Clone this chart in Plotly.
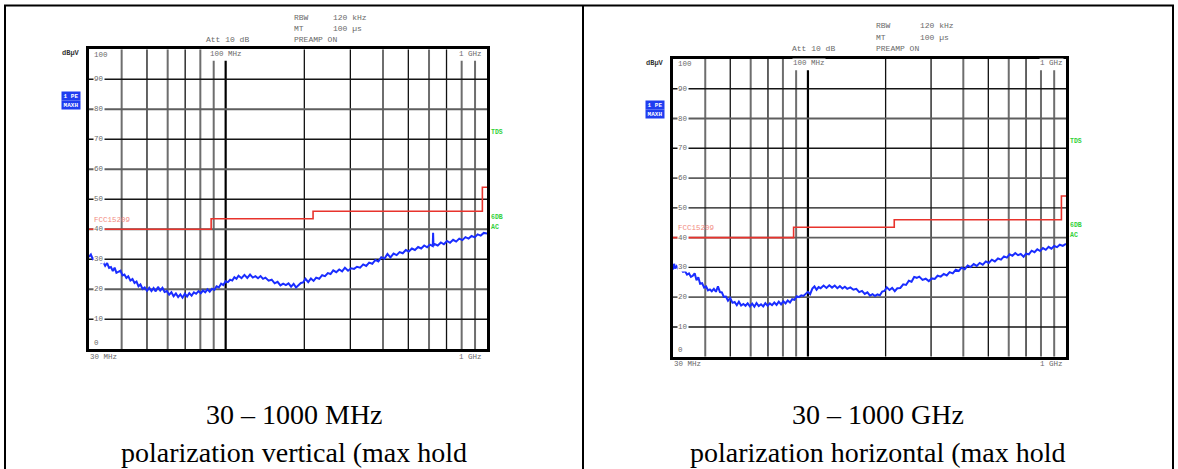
import plotly.graph_objects as go

W, H = 1178, 469

# ---------------- data ----------------
freq_v = [30.0, 30.5, 31.0, 31.6, 32.2, 32.8, 33.4, 34.0, 34.6, 35.2, 35.8, 36.4, 37.0, 37.6, 38.2, 38.9,
          39.6, 40.3, 41.0, 41.7, 42.4, 43.2, 44.0, 44.8, 45.6, 46.4, 47.2, 48.1, 49.0, 50.0, 51.0, 52.0,
          53.0, 54.0, 55.1, 56.2, 57.3, 58.4, 59.6, 60.8, 62.0, 63.2, 64.5, 65.8, 67.1, 68.4, 69.8, 71.2,
          72.6, 74.1, 75.6, 77.1, 78.7, 80.3, 81.9, 83.5, 85.2, 86.9, 88.7, 90.5, 92.3, 94.2, 96.1, 98.0,
          100, 102, 104, 106, 108, 110, 112, 115, 118, 121, 124, 127, 130, 133, 136, 139, 142, 146, 150,
          154, 158, 162, 166, 170, 174, 178, 182, 186, 190, 194, 198, 202, 207, 212, 217, 222, 228, 234,
          240, 246, 252, 258, 265, 272, 279, 286, 294, 302, 310, 318, 327, 336, 345, 354, 364, 374, 384,
          394, 405, 416, 427, 439, 451, 463, 476, 489, 502, 516, 530, 545, 560, 575, 590, 605, 620, 622,
          624, 630, 648, 666, 684, 703, 722, 742, 762, 783, 805, 827, 850, 873, 897, 921, 946, 972, 1000]
level_v = [30.8, 31.6, 30.1, 30.5, 29.6, 30.0, 28.8, 29.2, 27.8, 28.7, 27.1, 27.4, 26.1, 27.2, 25.5, 25.9,
           26.2, 24.6, 24.9, 23.8, 24.3, 22.9, 23.4, 22.1, 22.6, 21.0, 21.6, 20.1, 20.6, 19.5, 20.5, 19.4,
           20.4, 19.3, 20.8, 19.6, 20.5, 19.1, 19.4, 18.2, 19.0, 17.7, 18.6, 17.4, 18.3, 17.2, 18.5, 17.6,
           18.7, 17.9, 19.0, 18.5, 19.4, 18.7, 19.6, 19.0, 20.0, 19.2, 20.2, 19.8, 21.0, 20.6, 21.9, 21.4,
           22.7, 22.4, 23.2, 22.9, 24.0, 23.5, 24.5, 23.7, 24.8, 23.8, 24.9, 23.9, 24.4, 23.7, 24.4, 23.5,
           23.9, 22.9, 23.2, 22.0, 22.5, 21.3, 21.9, 21.4, 22.0, 20.9, 21.8, 20.6, 21.4, 22.1, 22.3, 23.5,
           22.4, 23.6, 22.8, 23.9, 23.5, 24.7, 24.4, 25.4, 25.1, 26.3, 25.7, 26.6, 26.0, 27.2, 26.2, 27.0,
           26.8, 27.5, 27.2, 28.3, 27.8, 28.9, 28.5, 29.8, 29.3, 30.7, 30.2, 31.8, 30.6, 31.9, 31.4, 32.4,
           32.0, 33.1, 32.6, 33.6, 33.1, 34.1, 33.6, 34.6, 34.0, 34.9, 34.4, 38.8, 34.5, 35.1, 34.6, 35.6,
           35.0, 36.1, 35.5, 36.5, 35.9, 36.9, 36.4, 37.4, 36.9, 37.8, 37.3, 38.3, 37.9, 38.8, 38.6]

freq_h = [30.0, 30.3, 30.6, 31.0, 31.6, 32.2, 32.8, 33.4, 34.0, 34.6, 35.2, 35.8, 36.4, 37.0, 37.6, 38.2,
          38.9, 39.6, 40.3, 41.0, 41.7, 42.4, 43.2, 44.0, 44.8, 45.6, 46.4, 47.2, 48.1, 49.0, 50.0, 51.0,
          52.0, 53.0, 54.0, 55.1, 56.2, 57.3, 58.4, 59.6, 60.8, 62.0, 63.2, 64.5, 65.8, 67.1, 68.4, 69.8,
          71.2, 72.6, 74.1, 75.6, 77.1, 78.7, 80.3, 81.9, 83.5, 85.2, 86.9, 88.7, 90.5, 92.3, 94.2, 96.1,
          98.0, 100, 102, 104, 106, 108, 110, 112, 115, 118, 121, 124, 127, 130, 133, 136, 139, 142, 146,
          150, 154, 158, 162, 166, 170, 174, 178, 182, 186, 190, 194, 198, 202, 207, 212, 217, 222, 228,
          234, 240, 246, 252, 258, 264, 270, 278, 286, 294, 302, 310, 318, 327, 336, 345, 354, 364, 374,
          384, 394, 405, 416, 427, 439, 451, 463, 476, 489, 502, 516, 530, 545, 560, 575, 590, 605, 620,
          636, 652, 668, 685, 700, 718, 736, 755, 774, 794, 814, 835, 856, 878, 900, 923, 946, 972, 1000]
level_h = [29.3, 31.2, 29.6, 30.4, 29.2, 29.6, 28.5, 28.7, 27.6, 28.0, 26.8, 27.2, 28.0, 25.7, 26.7, 24.5,
           24.7, 23.2, 23.6, 22.3, 22.6, 22.0, 22.8, 21.8, 23.6, 21.7, 21.6, 20.1, 20.2, 18.8, 19.7, 18.1,
           18.4, 17.3, 18.5, 17.2, 17.7, 17.1, 17.9, 16.9, 17.8, 16.8, 18.0, 17.0, 17.6, 16.9, 18.0, 17.1,
           17.9, 17.3, 18.2, 17.4, 18.5, 17.6, 18.6, 17.9, 18.9, 18.2, 19.3, 19.1, 20.3, 20.0, 20.6, 20.4,
           21.1, 21.8, 21.0, 22.9, 23.6, 22.5, 23.4, 23.0, 23.9, 23.1, 24.0, 23.2, 23.9, 23.0, 23.7, 22.9,
           23.5, 22.8, 23.3, 22.5, 22.8, 21.7, 22.1, 21.1, 21.6, 20.5, 21.0, 20.4, 20.9, 20.6, 21.9, 22.1,
           23.3, 22.4, 23.1, 22.0, 23.0, 23.1, 24.3, 24.1, 25.5, 25.2, 26.8, 26.5, 26.9, 25.8, 26.2, 25.4,
           26.3, 26.1, 27.2, 26.9, 27.8, 27.3, 28.4, 28.0, 29.2, 28.8, 29.9, 29.4, 30.6, 30.1, 31.1, 30.5,
           31.5, 30.9, 32.0, 31.5, 32.6, 32.0, 33.0, 32.6, 33.7, 33.3, 34.4, 33.9, 34.8, 34.1, 34.5, 33.6,
           34.6, 34.4, 35.6, 35.1, 36.1, 35.5, 36.5, 35.9, 36.9, 36.3, 37.2, 36.8, 37.6, 37.2, 37.9]

limit_freq = [30, 88, 216, 960, 1000]
limit_level = [40, 43.5, 46, 54, 54]

grid_freq = [40, 50, 60, 70, 80, 90, 100, 200, 300, 400, 500, 600, 700, 800, 900]
short_freq = [90, 100, 800, 900]
grid_level = [10, 20, 30, 40, 50, 60, 70, 80, 90]
y_tick_labels = ["10", "20", "30", "40", "50", "60", "70", "80", "90"]

captions = {
    "left": ["30 – 1000 MHz", "polarization vertical (max hold"],
    "right": ["30 – 1000 GHz", "polarization horizontal (max hold"],
}

# ---------------- helpers ----------------
def X(px):
    return px / W

def Y(py):
    return 1 - py / H

MONO = "Liberation Mono"
GRAY = "#6a6a6a"
BLUE = "#1a2dff"
RED = "#e8332c"
GREEN = "#33d13a"

fig = go.Figure()
annotations = []
shapes = []

panels = [
    dict(xa="x", ya="y", xd=[89, 487], yd=[49.3, 349.3], freq=freq_v, level=level_v,
         rbw=(293, 17), mt=(293, 28.5), att=(205, 39.5), val_dx=39,
         dbuv=(61, 52.7), pe=(70.5, 96), maxh=(70.5, 105),
         lab_x=93, top_y=55, zero_y=343, mhz100=(209, 54.3), ghz_top=(458, 54.3),
         bot=(89, 357), ghz_bot=(458, 357), fcc=(93, 220), tds=(490, 132), sixdb=(490, 218),
         ac=(490, 227), cap=captions["left"], cap_x=294),
    dict(xa="x2", ya="y2", xd=[673, 1066], yd=[59, 356.7], freq=freq_h, level=level_h,
         rbw=(875, 25), mt=(875, 37.5), att=(791, 49), val_dx=44,
         dbuv=(645, 62.7), pe=(654.5, 105), maxh=(654.5, 114),
         lab_x=677, top_y=64, zero_y=350, mhz100=(792, 63.3), ghz_top=(1039, 63.3),
         bot=(673, 364), ghz_bot=(1039, 364), fcc=(677, 228), tds=(1069, 141), sixdb=(1069, 226),
         ac=(1069, 235), cap=captions["right"], cap_x=878),
]

dark_idx = {1, 3, 6, 7, 8, 10, 12}

for p in panels:
    xa, ya = p["xa"], p["ya"]
    # vertical grid
    for i, f in enumerate(grid_freq):
        top = 96.2 if f in short_freq else 100
        if f == 100:
            col, wd = "#000000", 2.2
        elif i in dark_idx:
            col, wd = "#111111", 1.3
        else:
            col, wd = "#6e6e6e", 2.0
        fig.add_trace(go.Scatter(x=[f, f], y=[0, top], mode="lines", xaxis=xa, yaxis=ya,
                                 line=dict(color=col, width=wd), hoverinfo="skip", showlegend=False))
    # horizontal grid
    for j, lv in enumerate(grid_level):
        col, wd = ("#151515", 1.4) if j % 2 == 0 else ("#5e5e5e", 1.9)
        fig.add_trace(go.Scatter(x=[30, 1000], y=[lv, lv], mode="lines", xaxis=xa, yaxis=ya,
                                 line=dict(color=col, width=wd), hoverinfo="skip", showlegend=False))
    # limit line
    fig.add_trace(go.Scatter(x=limit_freq, y=limit_level, mode="lines", line_shape="hv",
                             xaxis=xa, yaxis=ya, line=dict(color=RED, width=1.6),
                             hoverinfo="skip", showlegend=False))
    # measurement
    fig.add_trace(go.Scatter(x=p["freq"], y=p["level"], mode="lines", xaxis=xa, yaxis=ya,
                             line=dict(color=BLUE, width=2.0), hoverinfo="skip", showlegend=False))

    def txt(t, xy, color=GRAY, size=8, xanchor="left", bg=None, bold=False, yref="paper", yval=None):
        a = dict(text=(f"<b>{t}</b>" if bold else t), x=X(xy[0]), xref="paper",
                 y=(Y(xy[1]) if yval is None else yval), yref=yref,
                 xanchor=xanchor, yanchor="middle", showarrow=False,
                 font=dict(family=MONO, size=size, color=color), borderpad=0)
        if bg:
            a["bgcolor"] = bg
        annotations.append(a)

    dx = p["val_dx"]
    txt("RBW", p["rbw"]); txt("120 kHz", (p["rbw"][0] + dx, p["rbw"][1]))
    txt("MT", p["mt"]); txt("100 µs", (p["mt"][0] + dx, p["mt"][1]))
    txt("Att 10 dB", p["att"]); txt("PREAMP ON", (p["rbw"][0], p["att"][1]))
    txt("dBµV", p["dbuv"], color="#333333", size=7, bold=True)
    for key, lab in (("pe", "1 PE"), ("maxh", "MAXH")):
        annotations.append(dict(text=f"<b>{lab}</b>", x=X(p[key][0]), y=Y(p[key][1]),
                                xref="paper", yref="paper", showarrow=False,
                                xanchor="center", yanchor="middle", width=17, height=7,
                                bgcolor="#1f3df0", borderpad=0.5,
                                font=dict(family=MONO, size=6, color="white")))
    txt("100", (p["lab_x"], p["top_y"]), size=7.5)
    txt("0", (p["lab_x"], p["zero_y"]), size=7.5)
    yref = "y" if ya == "y" else "y2"
    for lv, lab in zip(grid_level, y_tick_labels):
        txt(lab, (p["lab_x"], 0), bg="white", yref=yref, yval=lv, size=7.5)
    txt("100 MHz", p["mhz100"], bg="white", size=7.5)
    txt("1 GHz", p["ghz_top"], bg="white", size=7.5)
    txt("30 MHz", p["bot"], size=7.5)
    txt("1 GHz", p["ghz_bot"], size=7.5)
    txt("FCC15209", p["fcc"], color="#f28b82", size=7.5)
    txt("TDS", p["tds"], color=GREEN, size=6.5, bold=True)
    txt("6DB", p["sixdb"], color=GREEN, size=6.5, bold=True)
    txt("AC", p["ac"], color=GREEN, size=6.5, bold=True)
    # captions
    for line, cy in zip(p["cap"], (414, 452)):
        annotations.append(dict(text=line, x=X(p["cap_x"]), y=Y(cy), xref="paper", yref="paper",
                                xanchor="center", yanchor="middle", showarrow=False,
                                font=dict(family="Liberation Serif", size=28, color="black")))

# table borders
for (x0, y0, x1, y1) in [(4, 5.5, 1174, 5.5), (5, 5, 5, 469), (583, 5, 583, 469), (1173, 5, 1173, 469)]:
    shapes.append(dict(type="line", xref="paper", yref="paper", x0=X(x0), y0=Y(y0), x1=X(x1), y1=Y(y1),
                       line=dict(color="black", width=2)))

axis_common = dict(showgrid=False, zeroline=False, showticklabels=False, ticks="",
                   showline=True, mirror=True, linecolor="black", linewidth=2.5)

L, R = panels
fig.update_layout(
    width=W, height=H, margin=dict(l=0, r=0, t=0, b=0),
    paper_bgcolor="white", plot_bgcolor="white", showlegend=False,
    xaxis=dict(type="log", range=[1.4771, 3.0], domain=[X(L["xd"][0]), X(L["xd"][1])], anchor="y", **axis_common),
    yaxis=dict(range=[0, 100], domain=[Y(L["yd"][1]), Y(L["yd"][0])], anchor="x", **axis_common),
    xaxis2=dict(type="log", range=[1.4771, 3.0], domain=[X(R["xd"][0]), X(R["xd"][1])], anchor="y2", **axis_common),
    yaxis2=dict(range=[0, 100], domain=[Y(R["yd"][1]), Y(R["yd"][0])], anchor="x2", **axis_common),
    annotations=annotations, shapes=shapes,
)

fig.write_html("out.html")
